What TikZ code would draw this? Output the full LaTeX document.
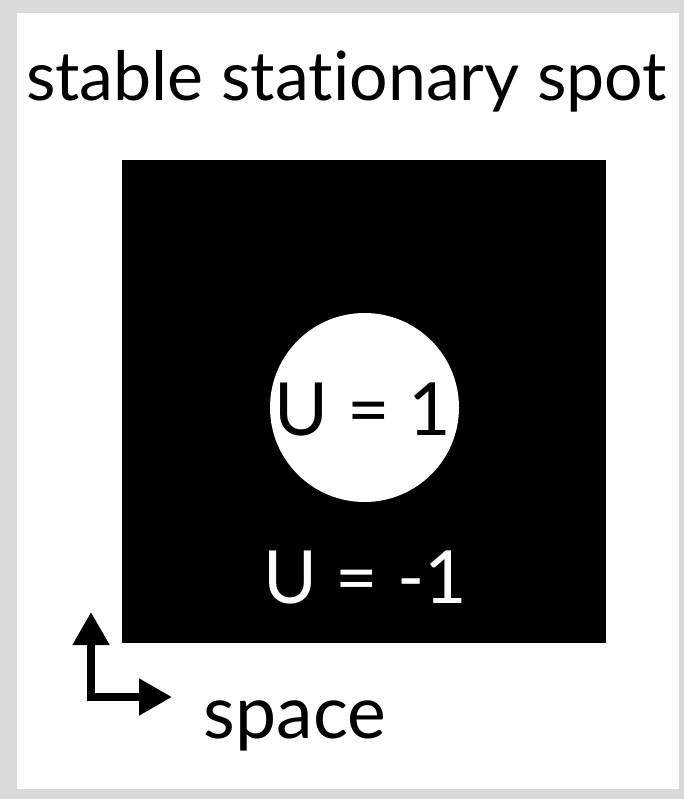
\documentclass[tikz,border=0pt]{standalone}
\usepackage{fontspec}
\setmainfont{Lato}[Ligatures=NoCommon]
\usetikzlibrary{arrows.meta}
\definecolor{frame}{HTML}{D9D9D9}
\tikzset{
  label text/.style={inner sep=0pt, anchor=base},
  axis/.style={line width=6pt, line join=miter,
    {Triangle[width=26.25pt,length=24.75pt]}-{Triangle[width=26.25pt,length=24.75pt]}}
}
\begin{document}
\begin{tikzpicture}[x=0.75pt,y=-0.75pt]
\useasboundingbox (0,0) rectangle (684,799);
\fill[frame] (0,0) rectangle (684,799);
\fill[white] (17,13) rectangle (679,789);
\node[label text, font=\fontsize{51}{57}\selectfont] (title) at (346.5,100) {stable sta\kern0pt tionary spot};
\node[fill=black, inner sep=0pt, minimum width=363pt, minimum height=362.25pt, anchor=north west] (field) at (122,160) {};
\node[fill=white, circle, inner sep=0pt, minimum size=141.75pt] (spot) at (364.5,407.5) {};
\node[label text, font=\fontsize{55}{60}\selectfont] (uin) at (363,435) {U = 1};
\node[label text, text=white, font=\fontsize{55}{60}\selectfont] (uout) at (365,603) {U = -1};
\coordinate (origin) at (91,697);
\coordinate (up) at (91,612);
\coordinate (right) at (172,697);
\draw[axis] (up) -- (origin) -- (right);
\node[label text, font=\fontsize{55}{60}\selectfont] (space) at (295,738) {space};
\end{tikzpicture}
\end{document}
